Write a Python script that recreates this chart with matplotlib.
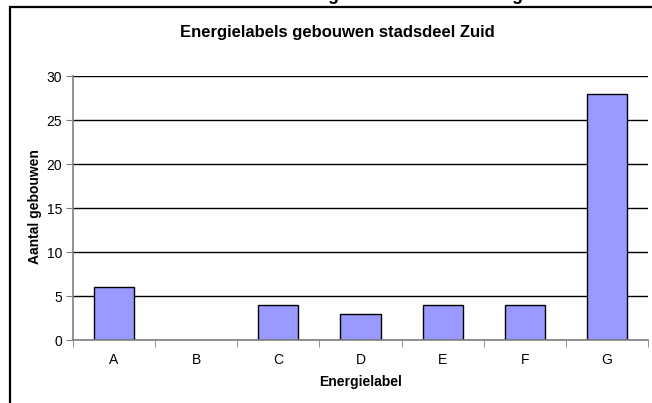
import matplotlib.pyplot as plt
from matplotlib.patches import Rectangle

labels = ['A', 'B', 'C', 'D', 'E', 'F', 'G']
aantal = [6, 0, 4, 3, 4, 4, 28]
y_ticks = [0, 5, 10, 15, 20, 25, 30]

W, H = 652, 403
plt.rcParams['font.family'] = ['Liberation Sans', 'DejaVu Sans']

fig = plt.figure(figsize=(W / 100, H / 100), dpi=100)
ax = fig.add_axes([73 / W, (H - 340) / H, (648 - 73) / W, (340 - 76) / H])

x = list(range(len(labels)))
widths = [0.0 if v == 0 else 1.0 for v in aantal]
ax.bar(x, aantal, width=0.49, color='#9999ff', edgecolor='black',
       linewidth=widths, zorder=3)

ax.set_xlim(-0.5, len(labels) - 0.5)
ax.set_ylim(0, 30)
ax.set_yticks(y_ticks)
ax.set_xticks(x)
ax.set_xticklabels(labels, fontsize=10)
ax.set_xticks([i + 0.5 for i in range(-1, len(labels))], minor=True)
ax.tick_params(axis='x', which='major', length=0, pad=9)
ax.tick_params(axis='x', which='minor', length=5, color='#808080', direction='out')
ax.tick_params(axis='y', length=5, color='#808080', direction='out', labelsize=10, pad=3)
ax.yaxis.grid(True, color='black', linewidth=1, zorder=0)
ax.set_axisbelow(True)

for side in ['top', 'right']:
    ax.spines[side].set_visible(False)
for side in ['left', 'bottom']:
    ax.spines[side].set_color('#808080')
    ax.spines[side].set_linewidth(1.2)
    ax.spines[side].set_zorder(4)

fig.text(337 / W, 1 - 32 / H, 'Energielabels gebouwen stadsdeel Zuid',
         ha='center', va='center', fontsize=12, fontweight='bold')
fig.text(35 / W, 1 - 207 / H, 'Aantal gebouwen', rotation=90,
         ha='center', va='center', fontsize=10, fontweight='bold')
fig.text(361 / W, 1 - 382 / H, 'Energielabel',
         ha='center', va='center', fontsize=10, fontweight='bold')

# bits of a heading cut off at the top edge
for gx in [333, 517]:
    fig.text(gx / W, 1 + 0.5 / H, 'g', ha='center', va='baseline',
             fontsize=13, fontweight='bold')

fig.patches.append(Rectangle((10 / W, -0.1), 1.2, 1.1 - 7 / H,
                             transform=fig.transFigure, fill=False,
                             edgecolor='black', linewidth=1.6))

fig.savefig('out.png', dpi=100)
